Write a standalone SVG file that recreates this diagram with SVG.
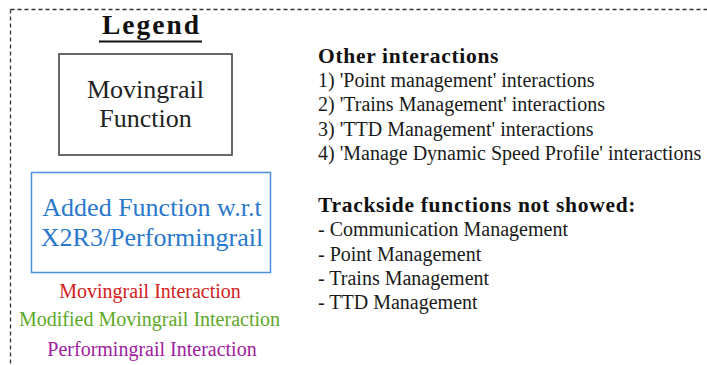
<svg xmlns="http://www.w3.org/2000/svg" width="707" height="365" viewBox="0 0 707 365">
<style>
.t{font-size:20px;fill:#1a1a1a;}
.h{font-size:21.5px;font-weight:bold;fill:#111;letter-spacing:0.7px;}
.c{text-anchor:middle;}
.bx{font-size:26px;}
.it{font-size:20px;}
</style>
<rect width="707" height="365" fill="#fff"/>
<path d="M10.5 9.5 H707 M10.5 9.5 V365" fill="none" stroke="#333" stroke-width="1.3" stroke-dasharray="4 3"/>
<g font-family="Liberation Serif">
<g id="legend-title">
<text x="151.5" y="34" class="c" font-size="27.5" font-weight="bold" fill="#111" letter-spacing="2">Legend</text>
<line x1="99" y1="41.5" x2="202" y2="41.5" stroke="#111" stroke-width="2.2"/>
</g>
<g id="movingrail-function">
<rect x="59" y="54" width="173" height="101" fill="#fff" stroke="#444" stroke-width="1.6"/>
<text x="145.5" y="98" class="c bx" fill="#222">Movingrail</text>
<text x="145.5" y="127" class="c bx" fill="#222">Function</text>
</g>
<g id="added-function">
<rect x="31.5" y="172.5" width="239" height="100" fill="#fff" stroke="#4a90e2" stroke-width="1.5"/>
<text x="152" y="216" class="c bx" fill="#2a78cc">Added Function w.r.t</text>
<text x="152" y="246" class="c bx" fill="#2a78cc">X2R3/Performingrail</text>
</g>
<g id="interactions-legend">
<text x="150" y="298" class="c it" fill="#d42020">Movingrail Interaction</text>
<text x="149.5" y="326" class="c it" fill="#5ea82a">Modified Movingrail Interaction</text>
<text x="152" y="356" class="c it" fill="#a020a0">Performingrail Interaction</text>
</g>
<g id="other-interactions">
<text x="318" y="63" class="h">Other interactions</text>
<text x="318" y="87" class="t">1) 'Point management' interactions</text>
<text x="318" y="111" class="t">2) 'Trains Management' interactions</text>
<text x="318" y="136" class="t">3) 'TTD Management' interactions</text>
<text x="318" y="160" class="t">4) 'Manage Dynamic Speed Profile' interactions</text>
</g>
<g id="trackside-functions">
<text x="318" y="212" class="h">Trackside functions not showed:</text>
<text x="318" y="236" class="t">- Communication Management</text>
<text x="318" y="261" class="t">- Point Management</text>
<text x="318" y="285" class="t">- Trains Management</text>
<text x="318" y="309" class="t">- TTD Management</text>
</g>
</g>
<g id="connectors"></g>
</svg>
